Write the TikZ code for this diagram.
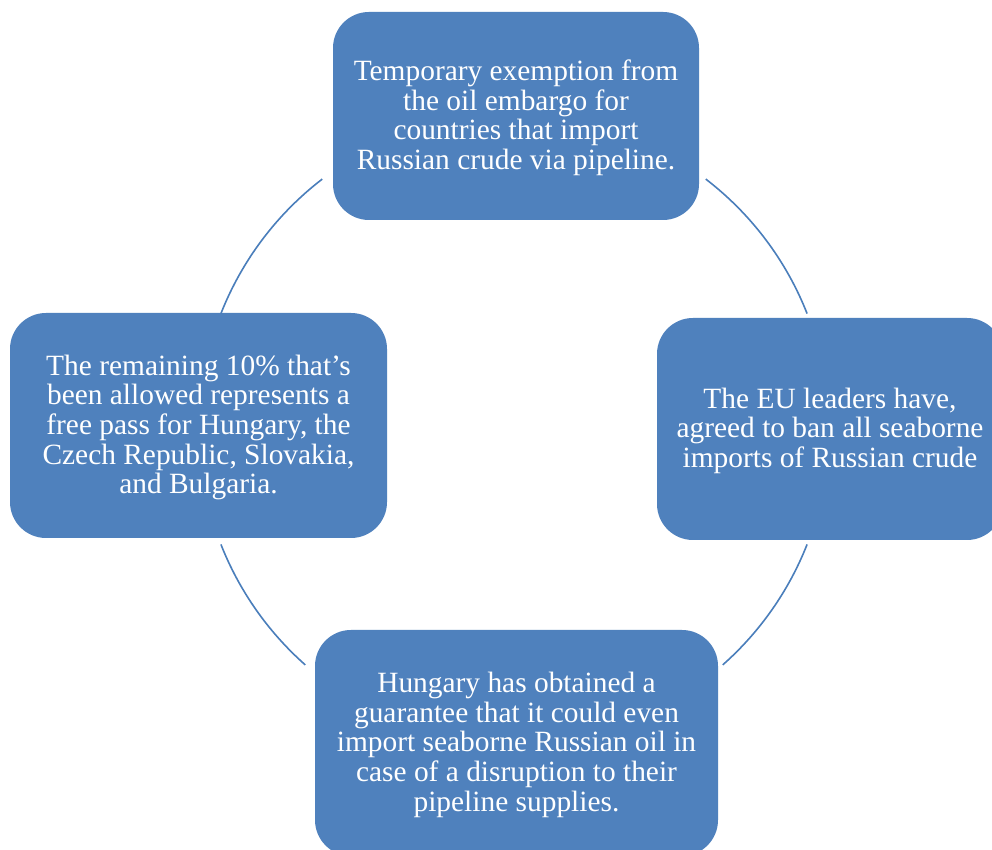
\documentclass[tikz,border=0pt]{standalone}
\usepackage{fontspec}
\setmainfont{Liberation Serif}
\definecolor{boxblue}{HTML}{4F81BD}
\definecolor{lineblue}{HTML}{4A7EBB}
\newcommand{\boxlines}[1]{\raisebox{-3pt}[\height][\depth]{\begin{tabular}{@{}c@{}}#1\end{tabular}}}
\begin{document}
\begin{tikzpicture}[x=1pt,y=1pt,
  box/.style={fill=boxblue, draw=none, rounded corners=36pt, inner sep=0pt,
    text=white,
    font=\fontsize{29.4pt}{29.7pt}\selectfont},
  link/.style={draw=lineblue, line width=1.6pt}]
\useasboundingbox (0,0) rectangle (992,850);
\clip (0,0) rectangle (992,850);
\fill[white] (0,0) rectangle (992,850);
\coordinate (c) at (514,421);
\node[box, minimum width=366pt, minimum height=208pt] (top) at (516,734)
  {\boxlines{Temporary exemption from\\the oil embargo for\\countries that import\\Russian crude via pipeline.}};
\node[box, minimum width=346pt, minimum height=222pt] (right) at (830,421)
  {\boxlines{The EU leaders have,\\agreed to ban all seaborne\\imports of Russian crude}};
\node[box, minimum width=403pt, minimum height=226pt] (bottom) at (516.5,107)
  {\boxlines{Hungary has obtained a\\guarantee that it could even\\import seaborne Russian oil in\\case of a disruption to their\\pipeline supplies.}};
\node[box, minimum width=377pt, minimum height=225pt] (left) at (198.5,424.5)
  {\boxlines{The remaining 10\% that’s\\been allowed represents a\\free pass for Hungary, the\\Czech Republic, Slovakia,\\and Bulgaria.}};
\coordinate (a1) at ([shift={(52.5:315pt)}]c);
\coordinate (a2) at ([shift={(-21.5:315pt)}]c);
\coordinate (a3) at ([shift={(-131.5:315pt)}]c);
\coordinate (a4) at ([shift={(158.5:315pt)}]c);
\draw[link] (a1) arc[start angle=52.5, end angle=21.5, radius=315pt];
\draw[link] (a2) arc[start angle=-21.5, end angle=-48.5, radius=315pt];
\draw[link] (a3) arc[start angle=-131.5, end angle=-158.5, radius=315pt];
\draw[link] (a4) arc[start angle=158.5, end angle=127.5, radius=315pt];
\end{tikzpicture}
\end{document}
